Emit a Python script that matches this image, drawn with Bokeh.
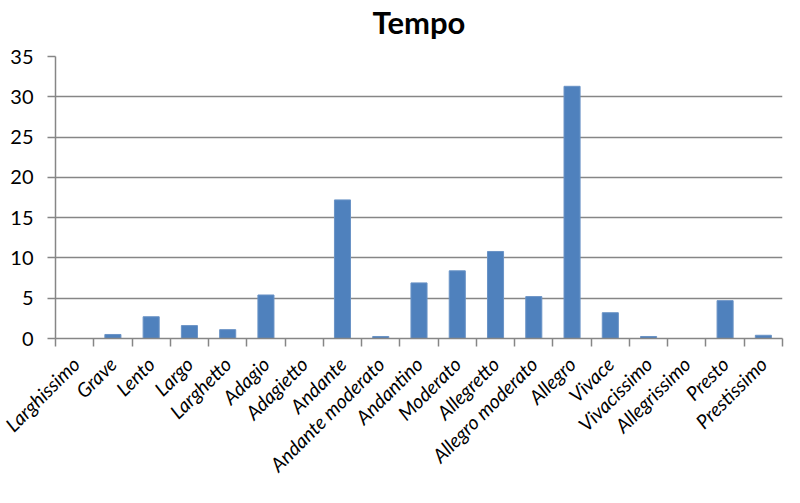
from bokeh.plotting import figure
from bokeh.models import FixedTicker, Range1d
from bokeh.layouts import column
from bokeh.embed import file_html
from bokeh.resources import INLINE
import math

categories = ["Larghissimo", "Grave", "Lento", "Largo", "Larghetto", "Adagio",
              "Adagietto", "Andante", "Andante moderato", "Andantino", "Moderato",
              "Allegretto", "Allegro moderato", "Allegro", "Vivace", "Vivacissimo",
              "Allegrissimo", "Presto", "Prestissimo"]
values = [0, 0.5, 2.7, 1.6, 1.1, 5.4, 0, 17.2, 0.25, 6.9, 8.4, 10.8, 5.2, 31.3,
          3.2, 0.25, 0, 4.7, 0.4]
y_ticks = [0, 5, 10, 15, 20, 25, 30, 35]
title_text = "Tempo"

xs = list(range(len(categories)))
GRID = "#868686"

# title strip
t = figure(width=784, height=40, output_backend="svg", toolbar_location=None,
           min_border_left=0, min_border_right=0, min_border_top=0, min_border_bottom=0)
t.outline_line_color = None
t.axis.visible = False
t.grid.visible = False
t.title.text = title_text
t.title.align = "center"
t.title.text_font = "Lato"
t.title.text_font_style = "bold"
t.title.text_font_size = "31px"
t.title.text_color = "black"
t.title.standoff = 0
t.title.offset = 8

p = figure(width=784, height=447, output_backend="svg", toolbar_location=None,
           x_range=Range1d(-0.5, len(categories) - 0.5), y_range=Range1d(0, 35),
           min_border_left=55, min_border_right=2, min_border_top=16,
           min_border_bottom=140)
p.outline_line_color = None

p.vbar(x=xs, top=values, width=0.42, fill_color="#4F81BD", line_color="#6a93c6",
       line_width=1)

p.xgrid.visible = False
p.ygrid.ticker = FixedTicker(ticks=y_ticks)
p.ygrid.grid_line_color = GRID
p.ygrid.grid_line_width = 1.5

xa = p.xaxis[0]
xa.ticker = FixedTicker(ticks=xs, minor_ticks=[i - 0.5 for i in range(len(categories) + 1)])
xa.major_label_overrides = {i: c for i, c in zip(xs, categories)}
xa.major_label_orientation = math.pi / 4
xa.major_tick_out = 0
xa.major_tick_in = 0
xa.minor_tick_out = 8
xa.minor_tick_in = 0
xa.minor_tick_line_color = GRID
xa.minor_tick_line_width = 1.5
xa.axis_line_color = GRID
xa.axis_line_width = 1.5
xa.major_label_text_font = "Lato"
xa.major_label_text_font_style = "italic"
xa.major_label_text_font_size = "19.5px"
xa.major_label_text_line_height = 0.9
xa.major_label_text_color = "black"
xa.major_label_standoff = 14

ya = p.yaxis[0]
ya.ticker = FixedTicker(ticks=y_ticks)
ya.major_tick_out = 8
ya.major_tick_in = 0
ya.minor_tick_out = 0
ya.minor_tick_in = 0
ya.major_tick_line_color = GRID
ya.major_tick_line_width = 1.5
ya.axis_line_color = GRID
ya.axis_line_width = 1.5
ya.major_label_text_font = "Lato"
ya.major_label_text_font_size = "20px"
ya.major_label_text_color = "black"
ya.major_label_standoff = 14

layout = column(t, p, spacing=0)
open("out.html", "w").write(file_html(layout, INLINE))
